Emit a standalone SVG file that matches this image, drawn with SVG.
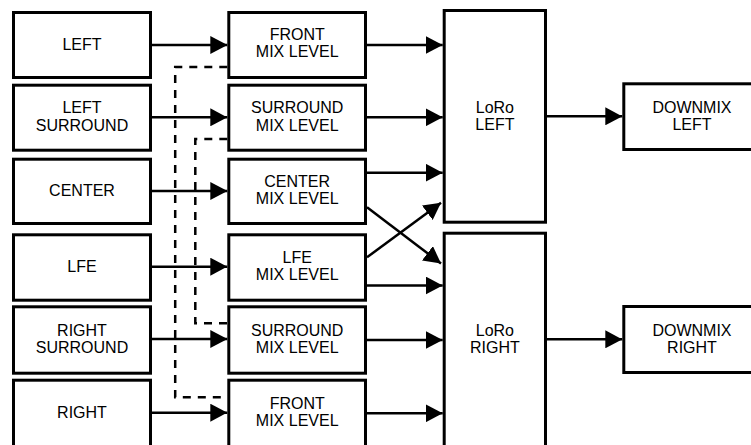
<svg xmlns="http://www.w3.org/2000/svg" width="751" height="445" viewBox="0 0 751 445">
<style>
  .box { fill: #fff; stroke: #000; stroke-width: 3; }
  .lbl { font-family: "Liberation Sans", Arial, Helvetica, sans-serif; font-size: 16px; fill: #000; text-anchor: middle; }
  .wire { stroke: #000; stroke-width: 2.5; fill: none; }
  .dash { stroke: #000; stroke-width: 2.5; fill: none; stroke-dasharray: 8 7; }
</style>
<defs>
  <marker id="ah" markerUnits="userSpaceOnUse" viewBox="0 0 17 18" markerWidth="17" markerHeight="18" refX="17" refY="9" orient="auto">
    <path d="M0,0 L17,9 L0,18 z" fill="#000"/>
  </marker>
</defs>
<rect width="751" height="445" fill="#fff"/>

<g id="in-left"><rect class="box" x="13.5" y="12.5" width="137" height="65"/><text class="lbl" x="82" y="50">LEFT</text></g>
<g id="in-left-surround"><rect class="box" x="13.5" y="85.2" width="137" height="65"/><text class="lbl" x="82" y="113.3">LEFT</text><text class="lbl" x="82" y="130.7">SURROUND</text></g>
<g id="in-center"><rect class="box" x="13.5" y="159.2" width="137" height="64.3"/><text class="lbl" x="82" y="196">CENTER</text></g>
<g id="in-lfe"><rect class="box" x="13.5" y="234.8" width="137" height="65.4"/><text class="lbl" x="82" y="272.3">LFE</text></g>
<g id="in-right-surround"><rect class="box" x="13.5" y="306.8" width="137" height="66.4"/><text class="lbl" x="82" y="335.7">RIGHT</text><text class="lbl" x="82" y="352.7">SURROUND</text></g>
<g id="in-right"><rect class="box" x="13.5" y="380.2" width="137" height="72"/><text class="lbl" x="82" y="418.3">RIGHT</text></g>

<g id="mix-front-l"><rect class="box" x="228.8" y="12.5" width="136.7" height="65"/><text class="lbl" x="297.2" y="40">FRONT</text><text class="lbl" x="297.2" y="57.3">MIX LEVEL</text></g>
<g id="mix-surround-l"><rect class="box" x="228.8" y="85.2" width="136.7" height="65"/><text class="lbl" x="297.2" y="113.3">SURROUND</text><text class="lbl" x="297.2" y="130.7">MIX LEVEL</text></g>
<g id="mix-center"><rect class="box" x="228.8" y="159.2" width="136.7" height="64.3"/><text class="lbl" x="297.2" y="186.7">CENTER</text><text class="lbl" x="297.2" y="204">MIX LEVEL</text></g>
<g id="mix-lfe"><rect class="box" x="228.8" y="234.8" width="136.7" height="65.4"/><text class="lbl" x="297.2" y="263.3">LFE</text><text class="lbl" x="297.2" y="280">MIX LEVEL</text></g>
<g id="mix-surround-r"><rect class="box" x="228.8" y="306.8" width="136.7" height="66.4"/><text class="lbl" x="297.2" y="335.7">SURROUND</text><text class="lbl" x="297.2" y="352.7">MIX LEVEL</text></g>
<g id="mix-front-r"><rect class="box" x="228.8" y="380.2" width="136.7" height="72"/><text class="lbl" x="297.2" y="409">FRONT</text><text class="lbl" x="297.2" y="425.7">MIX LEVEL</text></g>

<g id="loro-left"><rect class="box" x="444.2" y="10.5" width="101.3" height="211.7"/><text class="lbl" x="494.9" y="113.3">LoRo</text><text class="lbl" x="494.9" y="130.3">LEFT</text></g>
<g id="loro-right"><rect class="box" x="444.2" y="233.2" width="101.3" height="230"/><text class="lbl" x="494.9" y="336">LoRo</text><text class="lbl" x="494.9" y="352.7">RIGHT</text></g>

<g id="downmix-left"><rect class="box" x="623.8" y="83.8" width="140" height="65.7"/><text class="lbl" x="692" y="113.3">DOWNMIX</text><text class="lbl" x="692" y="130">LEFT</text></g>
<g id="downmix-right"><rect class="box" x="623.8" y="306.5" width="140" height="66"/><text class="lbl" x="692" y="336">DOWNMIX</text><text class="lbl" x="692" y="352.7">RIGHT</text></g>

<g id="connectors">
  <path class="dash" d="M227.3,67 H175.2 V397.3 H227.3"/>
  <path class="dash" d="M227.3,139 H195.3 V323.3 H227.3"/>

  <line class="wire" x1="152" y1="45" x2="227.3" y2="45" marker-end="url(#ah)"/>
  <line class="wire" x1="152" y1="117.3" x2="227.3" y2="117.3" marker-end="url(#ah)"/>
  <line class="wire" x1="152" y1="191" x2="227.3" y2="191" marker-end="url(#ah)"/>
  <line class="wire" x1="152" y1="266.7" x2="227.3" y2="266.7" marker-end="url(#ah)"/>
  <line class="wire" x1="152" y1="339" x2="227.3" y2="339" marker-end="url(#ah)"/>
  <line class="wire" x1="152" y1="412.7" x2="227.3" y2="412.7" marker-end="url(#ah)"/>

  <line class="wire" x1="367" y1="45" x2="442.7" y2="45" marker-end="url(#ah)"/>
  <line class="wire" x1="367" y1="117.3" x2="442.7" y2="117.3" marker-end="url(#ah)"/>
  <line class="wire" x1="367" y1="172.7" x2="442.7" y2="172.7" marker-end="url(#ah)"/>
  <line class="wire" x1="367" y1="207.3" x2="441" y2="263.5" marker-end="url(#ah)"/>
  <line class="wire" x1="367" y1="257.3" x2="441" y2="202.7" marker-end="url(#ah)"/>
  <line class="wire" x1="367" y1="285.5" x2="442.7" y2="285.5" marker-end="url(#ah)"/>
  <line class="wire" x1="367" y1="340" x2="442.7" y2="340" marker-end="url(#ah)"/>
  <line class="wire" x1="367" y1="413.3" x2="442.7" y2="413.3" marker-end="url(#ah)"/>

  <line class="wire" x1="547" y1="116.3" x2="622.3" y2="116.3" marker-end="url(#ah)"/>
  <line class="wire" x1="547" y1="339.3" x2="622.3" y2="339.3" marker-end="url(#ah)"/>
</g>
</svg>
